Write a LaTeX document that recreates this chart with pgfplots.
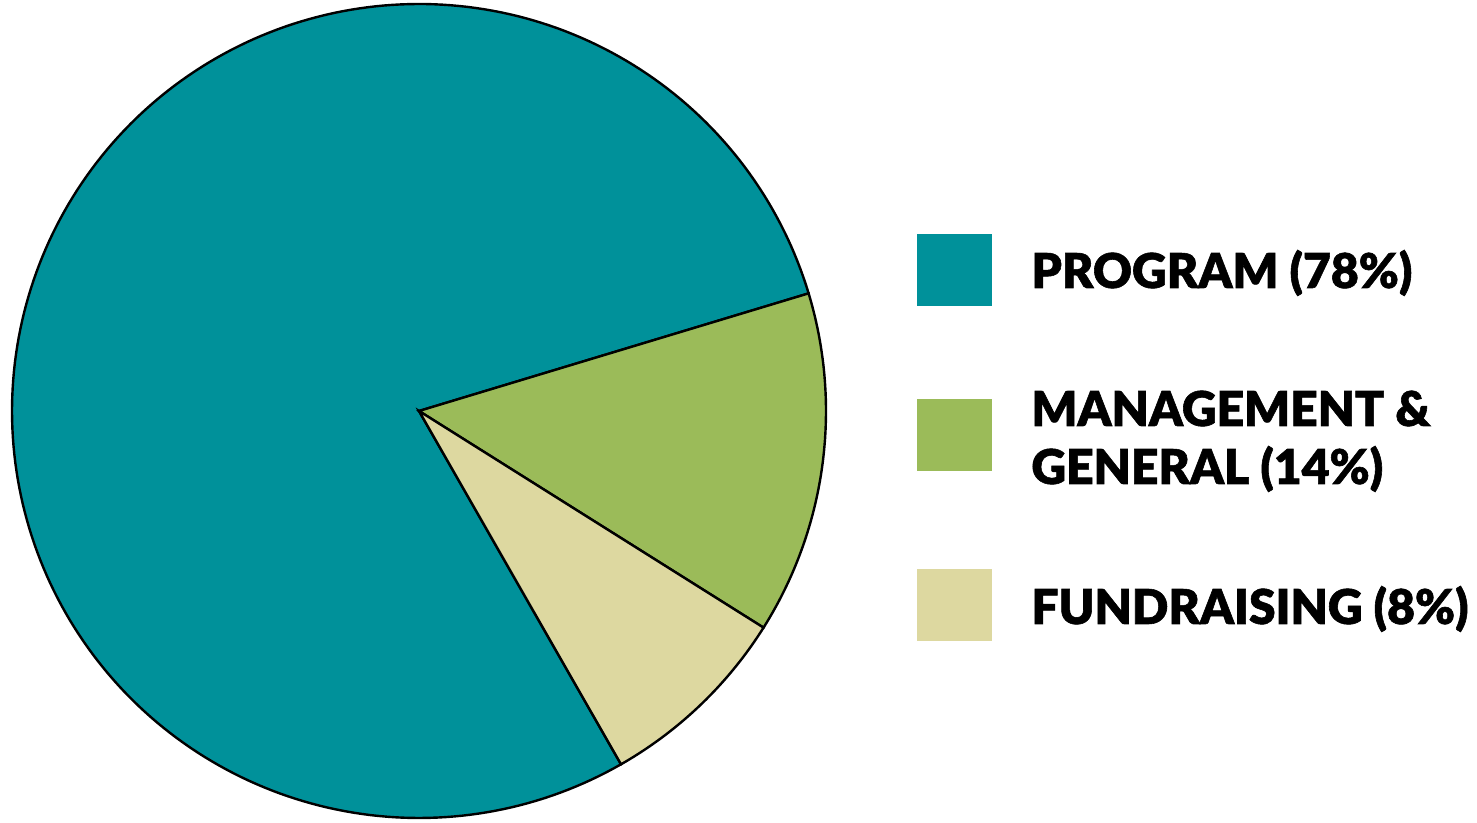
\documentclass[border=0pt]{standalone}
\usepackage{pgfplots}
\pgfplotsset{compat=1.18}
\usepackage{fontspec}
\newfontfamily\lab{Lato Black}[FakeBold=1.2]
\definecolor{cProg}{HTML}{00919A}
\definecolor{cMgmt}{HTML}{9BBB59}
\definecolor{cFund}{HTML}{DDD8A0}
% shares in percent
\def\pProg{78.6}
\def\pMgmt{13.6}
\def\pFund{7.8}
\def\startA{16.8}
\pgfmathsetmacro{\aA}{\startA}
\pgfmathsetmacro{\aB}{\startA-3.6*\pMgmt}
\pgfmathsetmacro{\aC}{\aB-3.6*\pFund}
\pgfmathsetmacro{\aD}{\aC-3.6*\pProg}
\def\cx{419}\def\cy{412}\def\R{407}
\begin{document}
\begin{tikzpicture}
\begin{axis}[width=738.5pt,height=411.5pt,scale only axis,
  xmin=0,xmax=1477,ymin=0,ymax=823,axis lines=none,clip=false]
\addplot[fill=cProg,draw=black,line width=1.2pt,domain=\aD:\aC,samples=240,variable=\t]
  ({\cx+\R*cos(t)},{\cy+\R*sin(t)}) -- (axis cs:\cx,\cy) -- cycle;
\addplot[fill=cMgmt,draw=black,line width=1.2pt,domain=\aB:\aA,samples=60,variable=\t]
  ({\cx+\R*cos(t)},{\cy+\R*sin(t)}) -- (axis cs:\cx,\cy) -- cycle;
\addplot[fill=cFund,draw=black,line width=1.2pt,domain=\aC:\aB,samples=40,variable=\t]
  ({\cx+\R*cos(t)},{\cy+\R*sin(t)}) -- (axis cs:\cx,\cy) -- cycle;
% legend swatches
\addplot[fill=cProg,draw=none] coordinates {(917,517) (992,517) (992,589) (917,589)} -- cycle;
\addplot[fill=cMgmt,draw=none] coordinates {(917,352) (992,352) (992,424) (917,424)} -- cycle;
\addplot[fill=cFund,draw=none] coordinates {(917,182) (992,182) (992,254) (917,254)} -- cycle;
\node[anchor=base west,font=\lab\fontsize{24}{28}\selectfont,inner sep=0pt] at (axis cs:1031,535) {PROGRAM (78\%)};
\node[anchor=base west,font=\lab\fontsize{24}{28}\selectfont,inner sep=0pt] at (axis cs:1031,397) {MANAGEMENT \&};
\node[anchor=base west,font=\lab\fontsize{24}{28}\selectfont,inner sep=0pt] at (axis cs:1031,339) {GENERAL (14\%)};
\node[anchor=base west,font=\lab\fontsize{24}{28}\selectfont,inner sep=0pt] at (axis cs:1031,199) {FUNDRAISING (8\%)};
\coordinate (bbA) at (axis cs:0,0);
\coordinate (bbB) at (axis cs:1477,823);
\end{axis}
\pgfresetboundingbox
\path (bbA) rectangle (bbB);
\end{tikzpicture}
\end{document}
